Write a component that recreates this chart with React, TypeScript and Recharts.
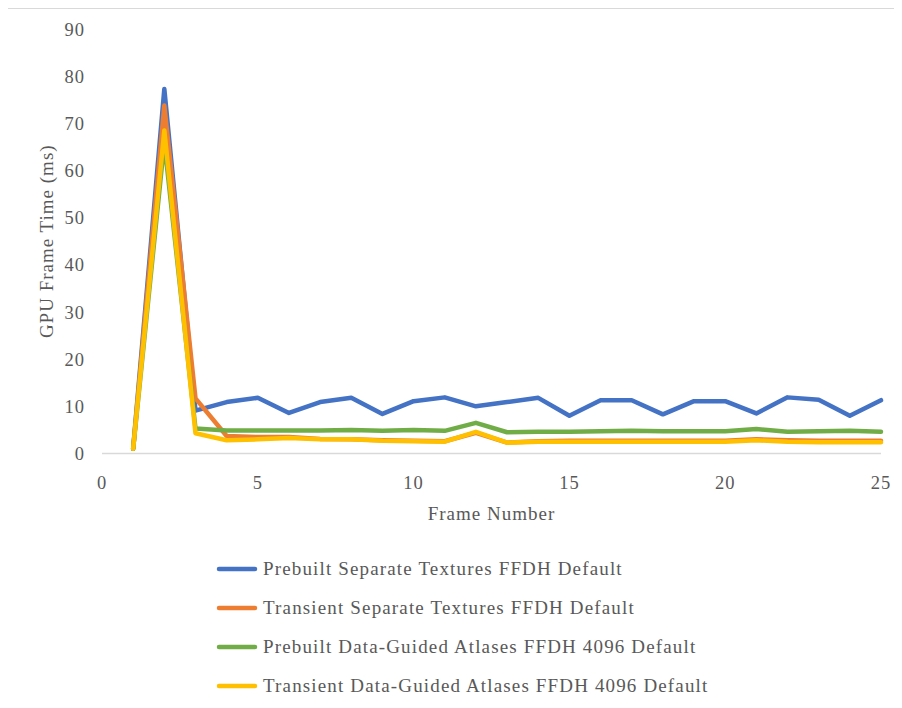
import { LineChart, Line, XAxis, YAxis, Legend } from 'recharts';

const frames = [1, 2, 3, 4, 5, 6, 7, 8, 9, 10, 11, 12, 13, 14, 15, 16, 17, 18, 19, 20, 21, 22, 23, 24, 25];

const prebuiltSeparate = [1.0, 77.3, 9.1, 10.9, 11.8, 8.6, 10.9, 11.8, 8.4, 11.1, 11.9, 10.0, 10.9, 11.8, 8.0, 11.3, 11.3, 8.3, 11.1, 11.1, 8.5, 11.9, 11.4, 8.0, 11.3];
const transientSeparate = [1.0, 73.8, 11.7, 3.7, 3.5, 3.5, 3.1, 3.0, 2.8, 2.7, 2.6, 4.4, 2.3, 2.6, 2.7, 2.7, 2.7, 2.7, 2.7, 2.7, 3.0, 2.8, 2.7, 2.7, 2.7];
const prebuiltAtlas = [1.0, 66.0, 5.3, 4.9, 4.9, 4.9, 4.9, 5.0, 4.8, 5.0, 4.8, 6.5, 4.5, 4.6, 4.6, 4.7, 4.8, 4.7, 4.7, 4.7, 5.2, 4.6, 4.7, 4.8, 4.6];
const transientAtlas = [1.0, 68.5, 4.3, 2.8, 3.0, 3.3, 3.0, 3.0, 2.7, 2.6, 2.5, 4.6, 2.3, 2.5, 2.5, 2.5, 2.5, 2.5, 2.5, 2.5, 2.8, 2.5, 2.4, 2.4, 2.4];

const xTicks = [0, 5, 10, 15, 20, 25];
const yTicks = [0, 10, 20, 30, 40, 50, 60, 70, 80, 90];

const series = [
  { key: 'prebuiltSeparate', name: 'Prebuilt Separate Textures FFDH Default', color: '#4472C4', values: prebuiltSeparate },
  { key: 'transientSeparate', name: 'Transient Separate Textures FFDH Default', color: '#ED7D31', values: transientSeparate },
  { key: 'prebuiltAtlas', name: 'Prebuilt Data-Guided Atlases FFDH 4096 Default', color: '#70AD47', values: prebuiltAtlas },
  { key: 'transientAtlas', name: 'Transient Data-Guided Atlases FFDH 4096 Default', color: '#FFC000', values: transientAtlas },
];

const data = frames.map((frame, i) => {
  const row: Record<string, number> = { frame };
  series.forEach((s) => {
    row[s.key] = s.values[i];
  });
  return row;
});

// Times-metric serif, letter-spaced a bit to get close to the wider Computer Modern
const FONT = '"Liberation Serif", Tinos, serif';
const TEXT = '#595959';

function renderLegend() {
  return (
    <div style={{ fontFamily: FONT }}>
      {series.map((s) => (
        <div key={s.key} style={{ display: 'flex', alignItems: 'center', height: 38.9 }}>
          <svg width={44} height={8} style={{ display: 'block' }}>
            <line x1={4} y1={4} x2={40} y2={4} stroke={s.color} strokeWidth={4.5} strokeLinecap="round" />
          </svg>
          <span style={{ fontSize: 19, color: TEXT, letterSpacing: 1.15, marginLeft: 4 }}>{s.name}</span>
        </div>
      ))}
    </div>
  );
}

function YTitle(props: any) {
  const vb = props.viewBox || {};
  const x = vb.x + 4;
  const y = vb.y + vb.height / 2;
  return (
    <text
      x={x}
      y={y}
      dy="0.35em"
      transform={`rotate(-90, ${x}, ${y})`}
      textAnchor="middle"
      fill={TEXT}
      letterSpacing={1}
      style={{ fontFamily: FONT, fontSize: 19 }}
    >
      GPU Frame Time (ms)
    </text>
  );
}

export default function App() {
  return (
    <div style={{ position: 'relative', width: 894, height: 700, overflow: 'hidden' }}>
      <div
        style={{
          position: 'absolute',
          left: -1,
          top: 0,
          width: 940,
          height: 740,
          border: '1px solid #d9d9d9',
          boxSizing: 'border-box',
        }}
      />
      <div style={{ position: 'absolute', left: 0, top: 0 }}>
        <LineChart
          width={894}
          height={700}
          data={data}
          margin={{ top: 21, right: 21, left: 34, bottom: 184.5 }}
        >
          <XAxis
            dataKey="frame"
            type="number"
            domain={[0, 25]}
            ticks={xTicks}
            height={70}
            axisLine={{ stroke: '#d9d9d9', strokeWidth: 1.5 }}
            tickLine={false}
            tickSize={0}
            tickMargin={22}
            tick={{ fill: TEXT, fontSize: 18.5, fontFamily: FONT, letterSpacing: 1 }}
            label={{
              value: 'Frame Number',
              position: 'insideBottom',
              offset: 3.5,
              fill: TEXT,
              fontSize: 19,
              fontFamily: FONT,
              letterSpacing: 1,
            }}
          />
          <YAxis
            type="number"
            domain={[0, 90]}
            ticks={yTicks}
            width={60}
            axisLine={false}
            tickLine={false}
            tickSize={0}
            tickMargin={17}
            tick={{ fill: TEXT, fontSize: 18.5, fontFamily: FONT, letterSpacing: 1 }}
            label={<YTitle />}
          />
          <Legend
            layout="vertical"
            align="center"
            verticalAlign="middle"
            content={renderLegend}
            wrapperStyle={{ left: 207, top: 542, width: 'auto', height: 'auto' }}
          />
          {series.map((s) => (
            <Line
              key={s.key}
              type="linear"
              dataKey={s.key}
              name={s.name}
              stroke={s.color}
              strokeWidth={4.5}
              strokeLinejoin="round"
              strokeLinecap="round"
              dot={false}
              activeDot={false}
              isAnimationActive={false}
            />
          ))}
        </LineChart>
      </div>
    </div>
  );
}
